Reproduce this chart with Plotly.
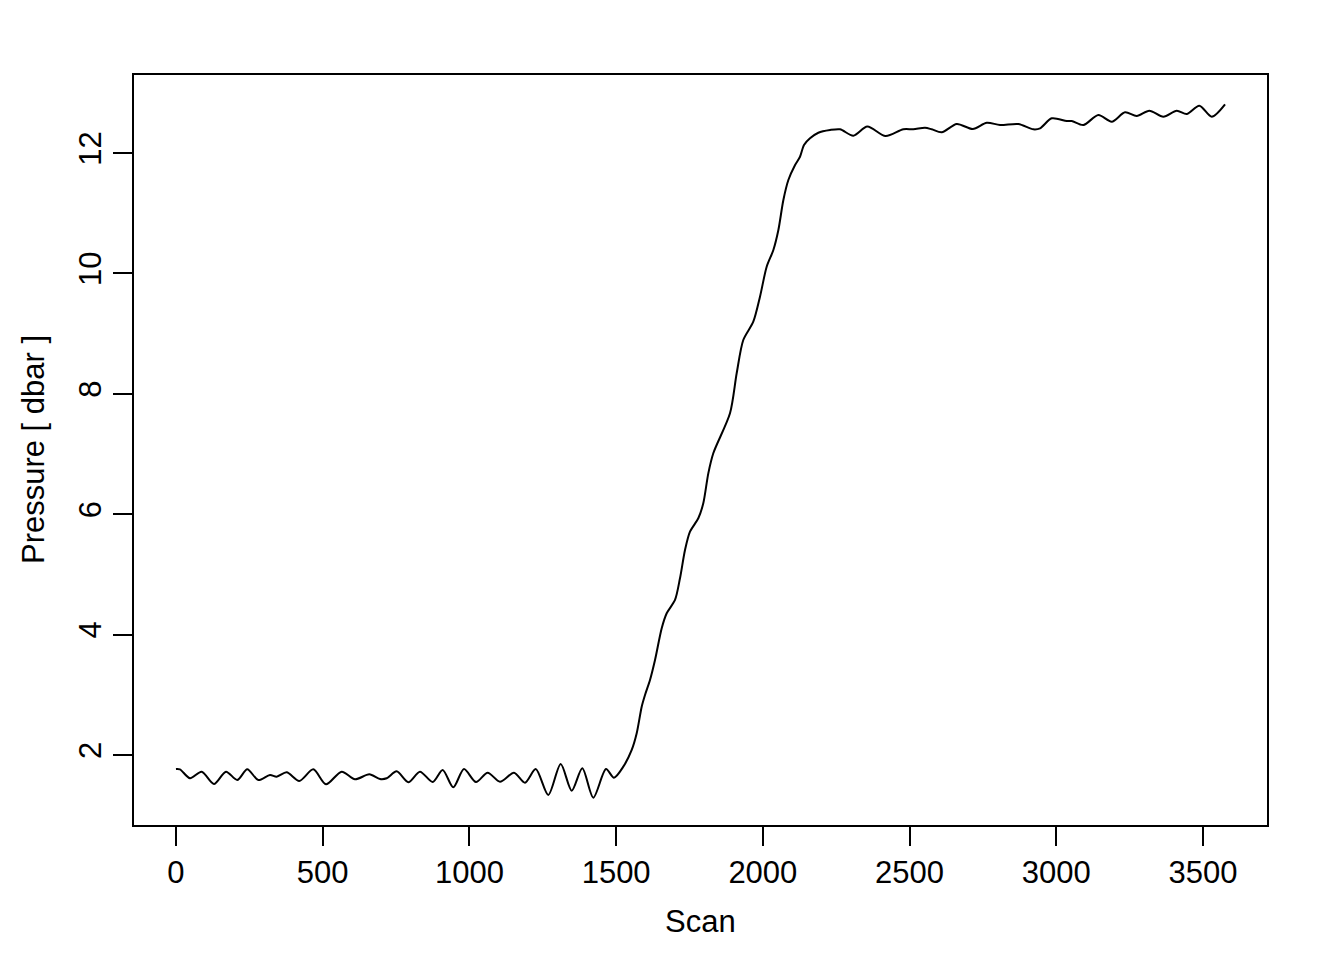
import plotly.graph_objects as go

scan = [0, 13.6, 47.7, 87.6, 129.5, 170.4, 208.9, 243.0, 280.5, 320.4, 343.2, 377.3,
        420.2, 467.9, 511.2, 564.7, 610.0, 658.8, 695.2, 718.1, 752.1, 791.7, 831.5,
        874.8, 908.9, 945.0, 981.5, 1022.4, 1062.3, 1104.2, 1151.9, 1189.4, 1225.9,
        1268.8, 1311.1, 1348.6, 1384.7, 1422.2, 1465.5, 1492.7, 1524.4, 1553.1, 1570.1,
        1587.1, 1598.4, 1615.4, 1632.5, 1655.3, 1672.3, 1700.6, 1717.6, 1734.7, 1751.7,
        1780.0, 1797.0, 1814.1, 1831.1, 1888.0, 1910.8, 1933.3, 1967.4, 1990.2, 2013.0,
        2035.8, 2052.9, 2069.9, 2086.9, 2109.8, 2126.6, 2140.2, 2160.7, 2189.0, 2228.9,
        2263.0, 2308.3, 2356.0, 2418.1, 2478.8, 2512.8, 2552.6, 2575.5, 2609.6, 2660.7,
        2715.3, 2763.0, 2808.3, 2870.7, 2921.8, 2944.7, 2984.5, 3035.6, 3052.7, 3092.2,
        3143.4, 3189.0, 3234.2, 3274.1, 3317.0, 3364.8, 3410.4, 3444.5, 3487.4, 3529.7,
        3575.0]

pressure = [1.767, 1.762, 1.613, 1.723, 1.518, 1.723, 1.585, 1.762, 1.585, 1.668, 1.640, 1.713,
            1.568, 1.762, 1.513, 1.723, 1.596, 1.679, 1.601, 1.613, 1.729, 1.547, 1.723,
            1.551, 1.751, 1.463, 1.767, 1.551, 1.706, 1.556, 1.706, 1.540, 1.767,
            1.336, 1.850, 1.407, 1.779, 1.291, 1.767, 1.623, 1.806, 2.083, 2.360,
            2.802, 2.997, 3.246, 3.578, 4.105, 4.354, 4.575, 4.935, 5.405, 5.709,
            5.932, 6.181, 6.679, 7.012, 7.676, 8.341, 8.894, 9.198, 9.613, 10.111,
            10.389, 10.721, 11.219, 11.551, 11.801, 11.938, 12.133, 12.244, 12.337, 12.382,
            12.394, 12.287, 12.440, 12.282, 12.394, 12.394, 12.420, 12.394, 12.344, 12.482,
            12.399, 12.503, 12.465, 12.482, 12.394, 12.410, 12.576, 12.532, 12.532, 12.465,
            12.631, 12.520, 12.676, 12.615, 12.703, 12.603, 12.703, 12.648, 12.786, 12.603,
            12.809]

x_ticks = [0, 500, 1000, 1500, 2000, 2500, 3000, 3500]
y_ticks = [2, 4, 6, 8, 10, 12]

FONT = "Liberation Sans, Arial, Helvetica, sans-serif"

fig = go.Figure()
fig.add_trace(go.Scatter(
    x=scan, y=pressure, mode="lines",
    line=dict(color="black", width=2, shape="spline", smoothing=0.8),
    showlegend=False, hoverinfo="skip",
))

fig.update_layout(
    width=1344, height=960,
    margin=dict(l=126, r=85, t=67, b=143),
    paper_bgcolor="white", plot_bgcolor="white",
    font=dict(family=FONT, size=32, color="black"),
    xaxis=dict(
        range=[-143, 3718], tickvals=x_ticks, ticktext=[str(v) for v in x_ticks],
        ticks="outside", ticklen=19, tickwidth=2, tickcolor="black",
        showline=True, linecolor="black", linewidth=2, mirror=True,
        showgrid=False, zeroline=False, tickfont=dict(size=31),
    ),
    yaxis=dict(
        range=[0.837, 13.296], tickvals=y_ticks, ticktext=[str(v) for v in y_ticks],
        ticks="outside", ticklen=19, tickwidth=2, tickcolor="black",
        showline=True, linecolor="black", linewidth=2, mirror=True,
        showgrid=False, zeroline=False, tickangle=-90, tickfont=dict(size=31),
    ),
    annotations=[
        dict(text="Scan", x=0.5, y=-0.1293, xref="paper", yref="paper",
             xanchor="center", yanchor="middle", showarrow=False,
             font=dict(size=31)),
        dict(text="Pressure [ dbar ]", x=-0.0891, y=0.5, xref="paper", yref="paper",
             xanchor="center", yanchor="middle", showarrow=False, textangle=-90,
             font=dict(size=31)),
    ],
)

fig.write_html("out.html")
